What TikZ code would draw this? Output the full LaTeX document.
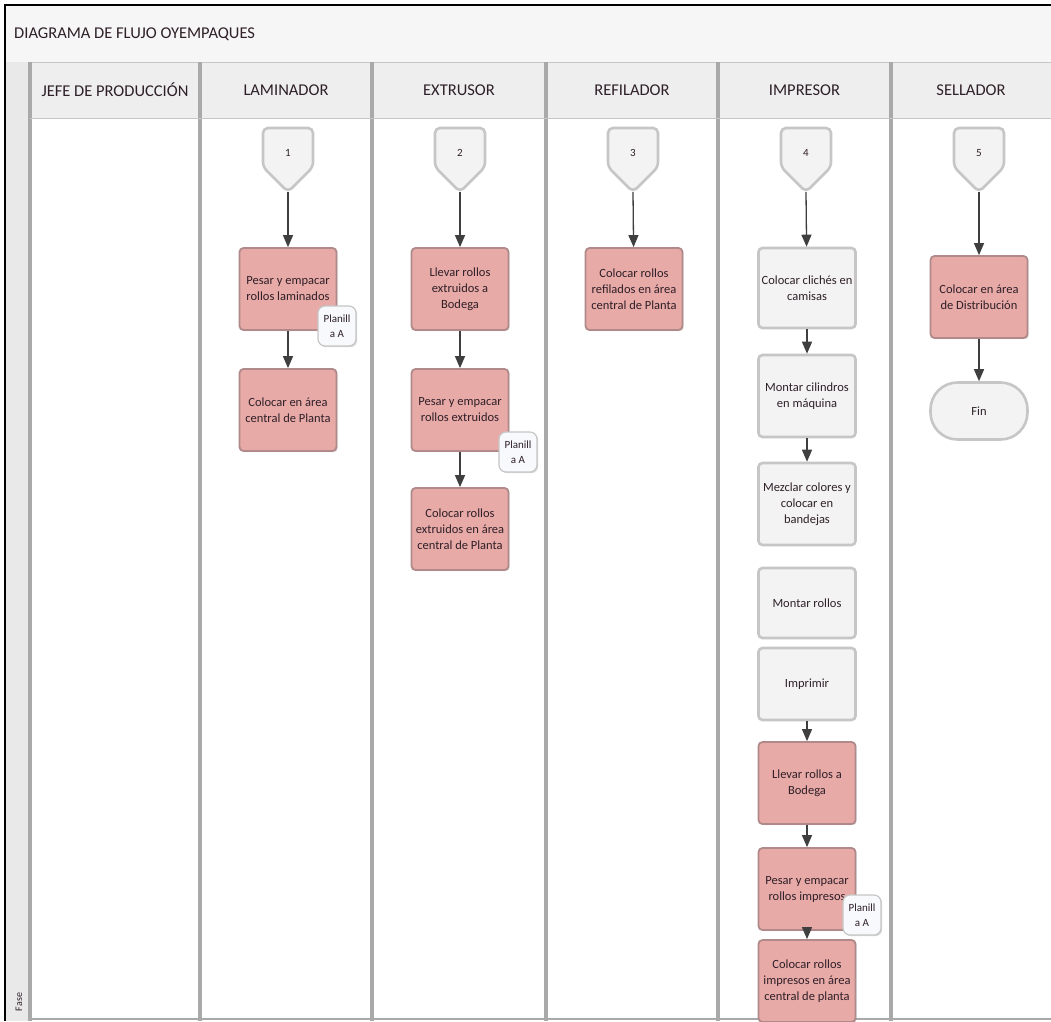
\documentclass[tikz,border=0pt]{standalone}
\usepackage{fontspec}
\setmainfont{Carlito}
\usetikzlibrary{arrows.meta,shadows}

\definecolor{pinkfill}{HTML}{E8AAA7}
\definecolor{pinkdraw}{HTML}{B08A8A}
\definecolor{greyfill}{HTML}{F3F3F3}
\definecolor{greydraw}{HTML}{C6C6C6}
\definecolor{laneline}{HTML}{A9A9A9}
\definecolor{headfill}{HTML}{EEEEEE}
\definecolor{titlefill}{HTML}{F6F6F6}
\definecolor{fasefill}{HTML}{E9E9E9}
\definecolor{txt}{HTML}{2E1F28}
\definecolor{arrowc}{HTML}{3F3F3F}
\definecolor{notefill}{HTML}{F7F9FC}

\begin{document}
\begin{tikzpicture}[x=1pt,y=-1pt,
  lanesep/.style={draw=laneline,line width=3.5pt},
  header/.style={rectangle,fill=headfill,draw=greydraw,line width=0.8pt,
    minimum height=56pt,inner sep=0pt,text=txt,
    font=\fontsize{16.5}{18}\selectfont},
  taskbox/.style={rectangle,rounded corners=4pt,minimum width=97pt,
    minimum height=82pt,align=center,text=txt,inner sep=2pt,
    font=\fontsize{12.5}{16}\selectfont},
  pinkbox/.style={taskbox,fill=pinkfill,draw=pinkdraw,line width=1.8pt,
    drop shadow={shadow xshift=1.2pt,shadow yshift=-1.2pt,opacity=0.25}},
  greybox/.style={taskbox,fill=greyfill,draw=greydraw,line width=2.6pt},
  endbox/.style={greybox,rounded corners=27pt,minimum height=57pt},
  offpage/.style={fill=greyfill,draw=greydraw,line width=2.6pt,rounded corners=5pt},
  offlabel/.style={text=txt,font=\fontsize{11}{12}\selectfont,inner sep=1pt},
  note/.style={rectangle,rounded corners=7pt,fill=notefill,draw=greydraw,
    line width=1.2pt,minimum width=38pt,minimum height=40pt,align=center,
    inner sep=1pt,text=txt,font=\fontsize{11}{14.5}\selectfont,
    drop shadow={shadow xshift=1.2pt,shadow yshift=-1.2pt,opacity=0.3}},
  flow/.style={draw=arrowc,line width=1.3pt,
    -{Triangle[length=12pt,width=10pt]}}
]
\useasboundingbox (0,0) rectangle (1051,1021);
\fill[white] (0,0) rectangle (1051,1021);

% title bar
\fill[titlefill] (6,6) rectangle (1051,62);
\draw[greydraw,line width=0.8pt] (6,62) -- (1051,62);
\node[anchor=west,text=txt,font=\fontsize{16.5}{18}\selectfont,inner sep=0pt]
  (title) at (14,34) {DIAGRAMA DE FLUJO OYEMPAQUES};

% phase column
\fill[fasefill] (6,62) rectangle (30,1021);
\node[rotate=90,text=txt,font=\fontsize{10}{11}\selectfont,inner sep=0pt]
  (fase) at (19,1002) {Fase};

% lane headers
\node[header,minimum width=170pt] (hjefe) at (115,90) {JEFE DE PRODUCCIÓN};
\node[header,minimum width=172pt] (hlam)  at (286,90) {LAMINADOR};
\node[header,minimum width=174pt] (hext)  at (459,90) {EXTRUSOR};
\node[header,minimum width=172pt] (href)  at (632,90) {REFILADOR};
\node[header,minimum width=173pt] (himp)  at (804.5,90) {IMPRESOR};
\node[header,minimum width=160pt] (hsel)  at (971,90) {SELLADOR};

% lane separators
\foreach \lx in {30,200,372,546,718,891}
  \draw[lanesep] (\lx,62) -- (\lx,1021);
\draw[greydraw,line width=1pt] (30,118) -- (1051,118);
\draw[laneline,line width=2pt] (30,1019) -- (1051,1019);

% off-page connectors
\foreach \cx/\nm/\lbl in {288/p1/1,460/p2/2,633/p3/3,806/p4/4,979/p5/5}{
  \draw[offpage] (\cx-25,128) -- (\cx+25,128) -- (\cx+25,167)
     -- (\cx,192) -- (\cx-25,167) -- cycle;
  \node[offlabel] (\nm) at (\cx,153) {\lbl};
  \coordinate (\nm-tip) at (\cx,192);
}

% LAMINADOR
\node[pinkbox] (lam1) at (288,289) {Pesar y empacar\\rollos laminados};
\node[pinkbox] (lam2) at (288,410) {Colocar en área\\central de Planta};

% EXTRUSOR
\node[pinkbox] (ext1) at (460,289) {Llevar rollos\\extruidos a\\Bodega};
\node[pinkbox] (ext2) at (460,410) {Pesar y empacar\\rollos extruidos};
\node[pinkbox] (ext3) at (460,529) {Colocar rollos\\extruidos en área\\central de Planta};

% REFILADOR
\node[pinkbox] (ref1) at (634,289) {Colocar rollos\\refilados en área\\central de Planta};

% IMPRESOR
\node[greybox,minimum height=80pt] (imp1) at (807,288) {Colocar clichés en\\camisas};
\node[greybox] (imp2) at (807,396) {Montar cilindros\\en máquina};
\node[greybox] (imp3) at (807,504) {Mezclar colores y\\colocar en\\bandejas};
\node[greybox,minimum height=70pt] (imp4) at (807,603) {Montar rollos};
\node[greybox,minimum height=72pt] (imp5) at (807,684) {Imprimir};
\node[pinkbox] (imp6) at (807,783) {Llevar rollos a\\Bodega};
\node[pinkbox] (imp7) at (807,889) {Pesar y empacar\\rollos impresos};
\node[pinkbox] (imp8) at (807,981) {Colocar rollos\\impresos en área\\central de planta};

% SELLADOR
\node[pinkbox] (sel1) at (979,297) {Colocar en área\\de Distribución};
\node[endbox] (fin) at (979,411) {Fin};

% attached form notes
\node[note] (n1) at (337,326) {Planill\\a A};
\node[note] (n2) at (518,452) {Planill\\a A};
\node[note] (n3) at (862,915) {Planill\\a A};

% flow arrows
\draw[flow] (p1-tip) -- (lam1);
\draw[flow] (lam1) -- (lam2);
\draw[flow] (p2-tip) -- (ext1);
\draw[flow] (ext1) -- (ext2);
\draw[flow] (ext2) -- (ext3);
\draw[flow] (p3-tip) -- (ref1);
\draw[flow] (p4-tip) -- (imp1);
\draw[flow] (imp1) -- (imp2);
\draw[flow] (imp2) -- (imp3);
\draw[flow] (imp5) -- (imp6);
\draw[flow] (imp6) -- (imp7);
\draw[flow] (imp7) -- (imp8);
\draw[flow] (p5-tip) -- (sel1);
\draw[flow] (sel1) -- (fin);

% outer frame
\draw[black,line width=2.5pt] (5,1021) -- (5,5) -- (1051,5);
\end{tikzpicture}
\end{document}
